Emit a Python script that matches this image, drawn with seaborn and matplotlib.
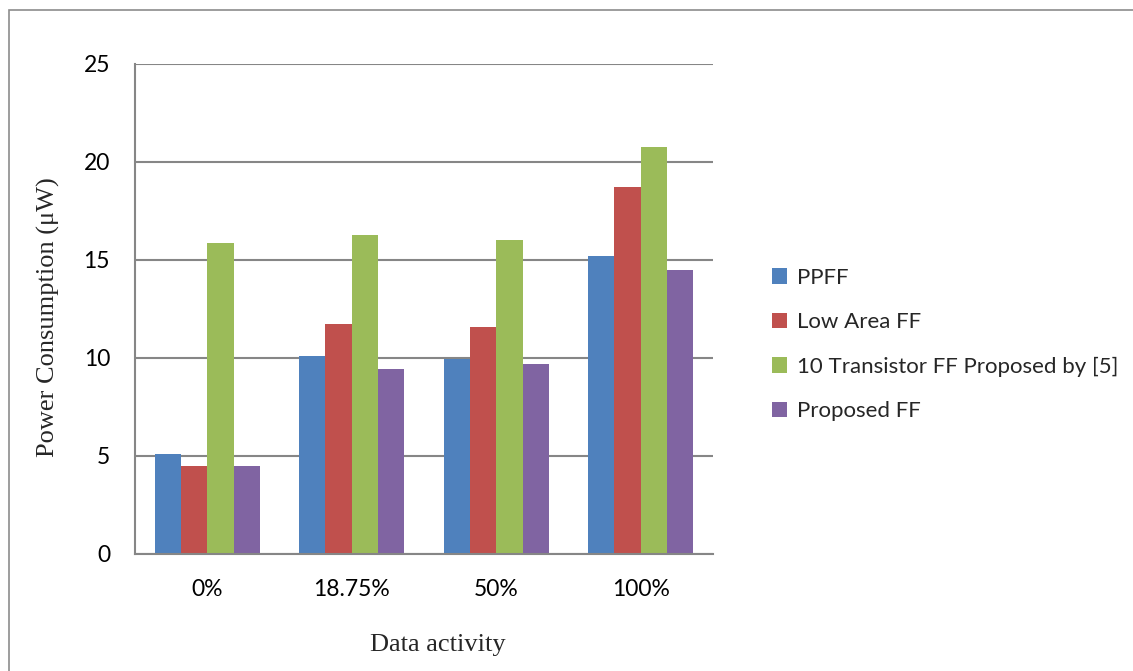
import matplotlib
matplotlib.use("Agg")
import matplotlib.pyplot as plt
import seaborn as sns
import pandas as pd
from matplotlib.patches import Rectangle

categories = ["0%", "18.75%", "50%", "100%"]
series = ["PPFF", "Low Area FF", "10 Transistor FF Proposed by [5]", "Proposed FF"]
ppff = [5.10, 10.12, 9.93, 15.22]
low_area = [4.51, 11.75, 11.56, 18.72]
ten_t = [15.87, 16.26, 16.04, 20.75]
proposed = [4.51, 9.44, 9.71, 14.51]
colors = ["#4F81BD", "#C0504D", "#9BBB59", "#8064A2"]

rows = []
for name, vals in zip(series, [ppff, low_area, ten_t, proposed]):
    for c, v in zip(categories, vals):
        rows.append({"Data activity": c, "Series": name, "Value": v})
df = pd.DataFrame(rows)

sns.set_theme(style="white")
plt.rcParams['font.family'] = ['Lato', 'DejaVu Sans']

fig = plt.figure(figsize=(11.33, 6.71), dpi=100)
ax = fig.add_axes([135/1133, 1-554/671, (713-135)/1133, (554-64)/671])

sns.barplot(data=df, x="Data activity", y="Value", hue="Series", order=categories,
            hue_order=series, palette=colors, width=4/5.5, saturation=1,
            ax=ax, errorbar=None, linewidth=0)

ax.set_ylim(0, 25)
ax.set_yticks([0, 5, 10, 15, 20, 25])
ax.set_xlim(-0.5, 3.5)
ax.yaxis.grid(True, color="#868686", linewidth=1.5)
ax.set_axisbelow(True)
for s in ["top", "right"]:
    ax.spines[s].set_visible(False)
for s in ["left", "bottom"]:
    ax.spines[s].set_color("#868686")
    ax.spines[s].set_linewidth(1.5)
ax.tick_params(axis="both", length=0, labelsize=16.5, colors="black")
ax.tick_params(axis="y", pad=18)
ax.tick_params(axis="x", pad=18)

serif = ["Liberation Serif", "DejaVu Serif"]
ax.set_ylabel("Power Consumption (μW)", family=serif, fontsize=19)
ax.set_xlabel("Data activity", family=serif, fontsize=19)
ax.yaxis.set_label_coords((48-135)/578, (554-317)/490)
ax.yaxis.label.set_va("center")
ax.xaxis.set_label_coords((438-135)/578, -(645-554)/490)
ax.xaxis.label.set_va("center")

handles, labels = ax.get_legend_handles_labels()
ax.get_legend().remove()
fig.legend(handles, labels, loc="center left", bbox_to_anchor=(772/1133, 1-344.5/671),
           frameon=False, fontsize=16, handlelength=0.68, handleheight=0.68,
           handletextpad=0.45, labelspacing=1.1, borderpad=0, borderaxespad=0)

fig.patches.append(Rectangle((9/1133, -0.05), 1.1, 1.05 - 10/671,
                             transform=fig.transFigure, fill=False,
                             edgecolor="#8c8c8c", linewidth=1.2))

fig.savefig("out.png", dpi=100)
